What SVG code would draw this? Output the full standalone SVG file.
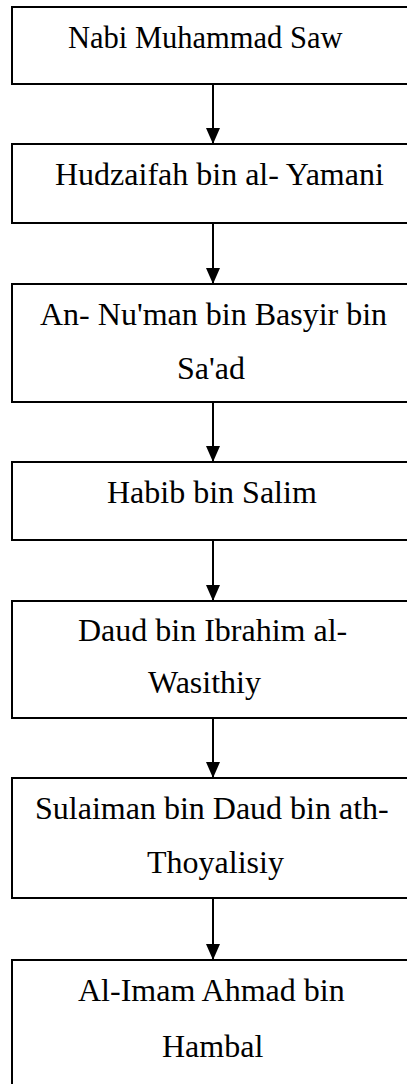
<svg xmlns="http://www.w3.org/2000/svg" width="407" height="1084" viewBox="0 0 407 1084">
  <style>
    .box { fill: #fff; stroke: #000; stroke-width: 2; }
    .lbl { font-family: "Liberation Serif", "Times New Roman", serif; font-size: 32px; fill: #000; }
    .link { stroke: #000; stroke-width: 2; fill: none; marker-end: url(#head); }
  </style>
  <defs>
    <!-- solid triangular head, tip at the end of the line -->
    <marker id="head" markerUnits="userSpaceOnUse" markerWidth="16" markerHeight="14" refX="16" refY="7" orient="auto" viewBox="0 0 16 14">
      <path d="M0,0 L16,7 L0,14 Z" fill="#000"/>
    </marker>
  </defs>
  <rect width="407" height="1084" fill="#fff"/>

  <g id="n1">
    <rect class="box" x="12" y="7" width="410" height="77"/>
    <text class="lbl" x="68" y="48" style="font-size:30.5px">Nabi Muhammad Saw</text>
  </g>
  <g id="n2">
    <rect class="box" x="12" y="144" width="410" height="79"/>
    <text class="lbl" x="55" y="185">Hudzaifah bin al- Yamani</text>
  </g>
  <g id="n3">
    <rect class="box" x="12" y="284" width="410" height="118"/>
    <text class="lbl" x="40" y="325">An- Nu'man bin Basyir bin</text>
    <text class="lbl" x="177" y="379">Sa'ad</text>
  </g>
  <g id="n4">
    <rect class="box" x="12" y="462" width="410" height="78"/>
    <text class="lbl" x="107" y="503">Habib bin Salim</text>
  </g>
  <g id="n5">
    <rect class="box" x="12" y="601" width="410" height="117"/>
    <text class="lbl" x="78" y="641">Daud bin Ibrahim al-</text>
    <text class="lbl" x="148" y="693">Wasithiy</text>
  </g>
  <g id="n6">
    <rect class="box" x="12" y="778" width="410" height="120"/>
    <text class="lbl" x="35" y="819">Sulaiman bin Daud bin ath-</text>
    <text class="lbl" x="147" y="873">Thoyalisiy</text>
  </g>
  <g id="n7">
    <rect class="box" x="12" y="960" width="410" height="140"/>
    <text class="lbl" x="78" y="1001">Al-Imam Ahmad bin</text>
    <text class="lbl" x="162" y="1057">Hambal</text>
  </g>

  <!-- chain connectors -->
  <g id="connectors">
    <line class="link" x1="213" y1="84" x2="213" y2="144"/>
    <line class="link" x1="213" y1="223" x2="213" y2="284"/>
    <line class="link" x1="213" y1="402" x2="213" y2="462"/>
    <line class="link" x1="213" y1="540" x2="213" y2="601"/>
    <line class="link" x1="213" y1="718" x2="213" y2="778"/>
    <line class="link" x1="213" y1="898" x2="213" y2="960"/>
  </g>
</svg>
